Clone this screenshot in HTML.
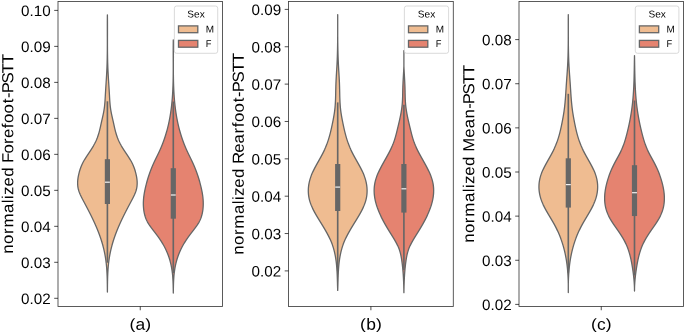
<!DOCTYPE html>
<html><head><meta charset="utf-8"><title>Violin plots</title>
<style>
html,body{margin:0;padding:0;background:#fff;}
body{width:685px;height:333px;overflow:hidden;font-family:"Liberation Sans",sans-serif;}
svg{display:block;will-change:transform;}
</style></head><body>
<svg width="685" height="333" viewBox="0 0 685 333" font-family="'Liberation Sans', sans-serif" fill="#000000">
<path d="M107.40,14.80 L107.39,15.80 L107.38,16.80 L107.37,17.80 L107.36,18.80 L107.35,19.80 L107.35,20.80 L107.34,21.80 L107.34,22.80 L107.34,23.80 L107.33,24.80 L107.33,25.80 L107.33,26.80 L107.33,27.80 L107.33,28.80 L107.33,29.80 L107.34,30.80 L107.34,31.80 L107.34,32.80 L107.34,33.80 L107.34,34.80 L107.34,35.80 L107.35,36.80 L107.35,37.80 L107.35,38.80 L107.35,39.80 L107.35,40.80 L107.35,41.80 L107.35,42.80 L107.35,43.80 L107.35,44.80 L107.35,45.80 L107.34,46.80 L107.34,47.80 L107.33,48.80 L107.33,49.80 L107.32,50.80 L107.31,51.80 L107.30,52.80 L107.29,53.80 L107.27,54.80 L107.26,55.80 L107.24,56.80 L107.23,57.80 L107.21,58.80 L107.19,59.80 L107.16,60.80 L107.14,61.80 L107.11,62.80 L107.08,63.80 L107.05,64.80 L107.01,65.80 L106.98,66.80 L106.94,67.80 L106.90,68.80 L106.85,69.80 L106.81,70.80 L106.76,71.80 L106.71,72.80 L106.65,73.80 L106.60,74.80 L106.54,75.80 L106.48,76.80 L106.42,77.80 L106.36,78.80 L106.30,79.80 L106.23,80.80 L106.17,81.80 L106.11,82.80 L106.04,83.80 L105.98,84.80 L105.91,85.80 L105.85,86.80 L105.78,87.80 L105.72,88.80 L105.66,89.80 L105.60,90.80 L105.54,91.80 L105.48,92.80 L105.42,93.80 L105.37,94.80 L105.31,95.80 L105.26,96.80 L105.20,97.80 L105.15,98.80 L105.08,99.80 L105.02,100.80 L104.95,101.80 L104.87,102.80 L104.78,103.80 L104.69,104.80 L104.59,105.80 L104.47,106.80 L104.34,107.80 L104.20,108.80 L104.05,109.80 L103.88,110.80 L103.70,111.80 L103.51,112.80 L103.31,113.80 L103.10,114.80 L102.88,115.80 L102.65,116.80 L102.43,117.80 L102.20,118.80 L101.97,119.80 L101.74,120.80 L101.51,121.80 L101.29,122.80 L101.07,123.80 L100.86,124.80 L100.64,125.80 L100.42,126.80 L100.19,127.80 L99.96,128.80 L99.72,129.80 L99.47,130.80 L99.21,131.80 L98.94,132.80 L98.65,133.80 L98.34,134.80 L98.02,135.80 L97.68,136.80 L97.32,137.80 L96.93,138.80 L96.52,139.80 L96.08,140.80 L95.61,141.80 L95.11,142.80 L94.59,143.80 L94.04,144.80 L93.47,145.80 L92.87,146.80 L92.26,147.80 L91.62,148.80 L90.98,149.80 L90.32,150.80 L89.66,151.80 L88.99,152.80 L88.32,153.80 L87.65,154.80 L86.99,155.80 L86.34,156.80 L85.71,157.80 L85.08,158.80 L84.48,159.80 L83.91,160.80 L83.36,161.80 L82.84,162.80 L82.35,163.80 L81.89,164.80 L81.45,165.80 L81.05,166.80 L80.66,167.80 L80.31,168.80 L79.97,169.80 L79.66,170.80 L79.37,171.80 L79.10,172.80 L78.85,173.80 L78.62,174.80 L78.40,175.80 L78.21,176.80 L78.05,177.80 L77.91,178.80 L77.79,179.80 L77.71,180.80 L77.65,181.80 L77.63,182.80 L77.63,183.80 L77.68,184.80 L77.76,185.80 L77.88,186.80 L78.04,187.80 L78.24,188.80 L78.49,189.80 L78.78,190.80 L79.11,191.80 L79.48,192.80 L79.89,193.80 L80.32,194.80 L80.78,195.80 L81.26,196.80 L81.76,197.80 L82.27,198.80 L82.80,199.80 L83.33,200.80 L83.87,201.80 L84.40,202.80 L84.93,203.80 L85.46,204.80 L85.99,205.80 L86.52,206.80 L87.05,207.80 L87.57,208.80 L88.09,209.80 L88.61,210.80 L89.12,211.80 L89.63,212.80 L90.14,213.80 L90.64,214.80 L91.14,215.80 L91.63,216.80 L92.12,217.80 L92.60,218.80 L93.07,219.80 L93.55,220.80 L94.01,221.80 L94.47,222.80 L94.92,223.80 L95.37,224.80 L95.80,225.80 L96.24,226.80 L96.66,227.80 L97.08,228.80 L97.49,229.80 L97.89,230.80 L98.28,231.80 L98.67,232.80 L99.05,233.80 L99.42,234.80 L99.78,235.80 L100.13,236.80 L100.48,237.80 L100.82,238.80 L101.15,239.80 L101.47,240.80 L101.78,241.80 L102.08,242.80 L102.37,243.80 L102.66,244.80 L102.94,245.80 L103.20,246.80 L103.46,247.80 L103.71,248.80 L103.95,249.80 L104.17,250.80 L104.39,251.80 L104.60,252.80 L104.80,253.80 L104.99,254.80 L105.17,255.80 L105.34,256.80 L105.50,257.80 L105.65,258.80 L105.79,259.80 L105.93,260.80 L106.05,261.80 L106.17,262.80 L106.28,263.80 L106.38,264.80 L106.48,265.80 L106.57,266.80 L106.65,267.80 L106.73,268.80 L106.80,269.80 L106.86,270.80 L106.92,271.80 L106.97,272.80 L107.02,273.80 L107.07,274.80 L107.11,275.80 L107.15,276.80 L107.18,277.80 L107.21,278.80 L107.23,279.80 L107.26,280.80 L107.28,281.80 L107.29,282.80 L107.31,283.80 L107.33,284.80 L107.34,285.80 L107.35,286.80 L107.36,287.80 L107.37,288.80 L107.38,289.80 L107.39,290.80 L107.40,291.80 L107.40,292.00 L107.40,292.00 L107.40,291.80 L107.41,290.80 L107.42,289.80 L107.43,288.80 L107.44,287.80 L107.45,286.80 L107.46,285.80 L107.47,284.80 L107.49,283.80 L107.51,282.80 L107.52,281.80 L107.54,280.80 L107.57,279.80 L107.59,278.80 L107.62,277.80 L107.65,276.80 L107.69,275.80 L107.73,274.80 L107.78,273.80 L107.83,272.80 L107.88,271.80 L107.94,270.80 L108.00,269.80 L108.07,268.80 L108.15,267.80 L108.23,266.80 L108.32,265.80 L108.42,264.80 L108.52,263.80 L108.63,262.80 L108.75,261.80 L108.87,260.80 L109.01,259.80 L109.15,258.80 L109.30,257.80 L109.46,256.80 L109.63,255.80 L109.81,254.80 L110.00,253.80 L110.20,252.80 L110.41,251.80 L110.63,250.80 L110.85,249.80 L111.09,248.80 L111.34,247.80 L111.60,246.80 L111.86,245.80 L112.14,244.80 L112.43,243.80 L112.72,242.80 L113.02,241.80 L113.33,240.80 L113.65,239.80 L113.98,238.80 L114.32,237.80 L114.67,236.80 L115.02,235.80 L115.38,234.80 L115.75,233.80 L116.13,232.80 L116.52,231.80 L116.91,230.80 L117.31,229.80 L117.72,228.80 L118.14,227.80 L118.56,226.80 L119.00,225.80 L119.43,224.80 L119.88,223.80 L120.33,222.80 L120.79,221.80 L121.25,220.80 L121.73,219.80 L122.20,218.80 L122.68,217.80 L123.17,216.80 L123.66,215.80 L124.16,214.80 L124.66,213.80 L125.17,212.80 L125.68,211.80 L126.19,210.80 L126.71,209.80 L127.23,208.80 L127.75,207.80 L128.28,206.80 L128.81,205.80 L129.34,204.80 L129.87,203.80 L130.40,202.80 L130.93,201.80 L131.47,200.80 L132.00,199.80 L132.53,198.80 L133.04,197.80 L133.54,196.80 L134.02,195.80 L134.48,194.80 L134.91,193.80 L135.32,192.80 L135.69,191.80 L136.02,190.80 L136.31,189.80 L136.56,188.80 L136.76,187.80 L136.92,186.80 L137.04,185.80 L137.12,184.80 L137.17,183.80 L137.17,182.80 L137.15,181.80 L137.09,180.80 L137.01,179.80 L136.89,178.80 L136.75,177.80 L136.59,176.80 L136.40,175.80 L136.18,174.80 L135.95,173.80 L135.70,172.80 L135.43,171.80 L135.14,170.80 L134.83,169.80 L134.49,168.80 L134.14,167.80 L133.75,166.80 L133.35,165.80 L132.91,164.80 L132.45,163.80 L131.96,162.80 L131.44,161.80 L130.89,160.80 L130.32,159.80 L129.72,158.80 L129.09,157.80 L128.46,156.80 L127.81,155.80 L127.15,154.80 L126.48,153.80 L125.81,152.80 L125.14,151.80 L124.48,150.80 L123.82,149.80 L123.18,148.80 L122.54,147.80 L121.93,146.80 L121.33,145.80 L120.76,144.80 L120.21,143.80 L119.69,142.80 L119.19,141.80 L118.72,140.80 L118.28,139.80 L117.87,138.80 L117.48,137.80 L117.12,136.80 L116.78,135.80 L116.46,134.80 L116.15,133.80 L115.86,132.80 L115.59,131.80 L115.33,130.80 L115.08,129.80 L114.84,128.80 L114.61,127.80 L114.38,126.80 L114.16,125.80 L113.94,124.80 L113.73,123.80 L113.51,122.80 L113.29,121.80 L113.06,120.80 L112.83,119.80 L112.60,118.80 L112.37,117.80 L112.15,116.80 L111.92,115.80 L111.70,114.80 L111.49,113.80 L111.29,112.80 L111.10,111.80 L110.92,110.80 L110.75,109.80 L110.60,108.80 L110.46,107.80 L110.33,106.80 L110.21,105.80 L110.11,104.80 L110.02,103.80 L109.93,102.80 L109.85,101.80 L109.78,100.80 L109.72,99.80 L109.65,98.80 L109.60,97.80 L109.54,96.80 L109.49,95.80 L109.43,94.80 L109.38,93.80 L109.32,92.80 L109.26,91.80 L109.20,90.80 L109.14,89.80 L109.08,88.80 L109.02,87.80 L108.95,86.80 L108.89,85.80 L108.82,84.80 L108.76,83.80 L108.69,82.80 L108.63,81.80 L108.57,80.80 L108.50,79.80 L108.44,78.80 L108.38,77.80 L108.32,76.80 L108.26,75.80 L108.20,74.80 L108.15,73.80 L108.09,72.80 L108.04,71.80 L107.99,70.80 L107.95,69.80 L107.90,68.80 L107.86,67.80 L107.82,66.80 L107.79,65.80 L107.75,64.80 L107.72,63.80 L107.69,62.80 L107.66,61.80 L107.64,60.80 L107.61,59.80 L107.59,58.80 L107.57,57.80 L107.56,56.80 L107.54,55.80 L107.53,54.80 L107.51,53.80 L107.50,52.80 L107.49,51.80 L107.48,50.80 L107.47,49.80 L107.47,48.80 L107.46,47.80 L107.46,46.80 L107.45,45.80 L107.45,44.80 L107.45,43.80 L107.45,42.80 L107.45,41.80 L107.45,40.80 L107.45,39.80 L107.45,38.80 L107.45,37.80 L107.45,36.80 L107.46,35.80 L107.46,34.80 L107.46,33.80 L107.46,32.80 L107.46,31.80 L107.46,30.80 L107.47,29.80 L107.47,28.80 L107.47,27.80 L107.47,26.80 L107.47,25.80 L107.47,24.80 L107.46,23.80 L107.46,22.80 L107.46,21.80 L107.45,20.80 L107.45,19.80 L107.44,18.80 L107.43,17.80 L107.42,16.80 L107.41,15.80 L107.40,14.80Z" fill="#efbc91" stroke="#666666" stroke-width="1.3" stroke-linejoin="round"/>
<line x1="107.4" x2="107.4" y1="101.3" y2="262.7" stroke="#666666" stroke-width="1.64"/>
<line x1="107.4" x2="107.4" y1="159.2" y2="204.0" stroke="#666666" stroke-width="5.2"/>
<line x1="104.95" x2="109.85000000000001" y1="182.2" y2="182.2" stroke="#f2f2f2" stroke-width="1.2"/>
<path d="M173.30,39.80 L173.28,40.80 L173.27,41.80 L173.26,42.80 L173.25,43.80 L173.24,44.80 L173.23,45.80 L173.22,46.80 L173.22,47.80 L173.21,48.80 L173.21,49.80 L173.21,50.80 L173.21,51.80 L173.21,52.80 L173.21,53.80 L173.21,54.80 L173.22,55.80 L173.22,56.80 L173.22,57.80 L173.22,58.80 L173.23,59.80 L173.23,60.80 L173.23,61.80 L173.24,62.80 L173.24,63.80 L173.24,64.80 L173.24,65.80 L173.24,66.80 L173.24,67.80 L173.24,68.80 L173.24,69.80 L173.24,70.80 L173.23,71.80 L173.23,72.80 L173.22,73.80 L173.21,74.80 L173.20,75.80 L173.19,76.80 L173.17,77.80 L173.16,78.80 L173.14,79.80 L173.12,80.80 L173.10,81.80 L173.07,82.80 L173.04,83.80 L173.01,84.80 L172.98,85.80 L172.94,86.80 L172.90,87.80 L172.86,88.80 L172.82,89.80 L172.77,90.80 L172.72,91.80 L172.66,92.80 L172.60,93.80 L172.54,94.80 L172.47,95.80 L172.40,96.80 L172.33,97.80 L172.25,98.80 L172.16,99.80 L172.08,100.80 L171.98,101.80 L171.89,102.80 L171.78,103.80 L171.68,104.80 L171.57,105.80 L171.45,106.80 L171.33,107.80 L171.20,108.80 L171.07,109.80 L170.93,110.80 L170.79,111.80 L170.64,112.80 L170.48,113.80 L170.32,114.80 L170.16,115.80 L169.98,116.80 L169.81,117.80 L169.62,118.80 L169.43,119.80 L169.23,120.80 L169.02,121.80 L168.81,122.80 L168.59,123.80 L168.37,124.80 L168.13,125.80 L167.89,126.80 L167.65,127.80 L167.39,128.80 L167.13,129.80 L166.86,130.80 L166.58,131.80 L166.29,132.80 L166.00,133.80 L165.70,134.80 L165.39,135.80 L165.07,136.80 L164.74,137.80 L164.40,138.80 L164.06,139.80 L163.71,140.80 L163.34,141.80 L162.97,142.80 L162.59,143.80 L162.20,144.80 L161.79,145.80 L161.38,146.80 L160.96,147.80 L160.53,148.80 L160.08,149.80 L159.63,150.80 L159.17,151.80 L158.69,152.80 L158.21,153.80 L157.73,154.80 L157.24,155.80 L156.75,156.80 L156.25,157.80 L155.77,158.80 L155.28,159.80 L154.80,160.80 L154.33,161.80 L153.86,162.80 L153.41,163.80 L152.97,164.80 L152.53,165.80 L152.11,166.80 L151.70,167.80 L151.30,168.80 L150.90,169.80 L150.52,170.80 L150.15,171.80 L149.78,172.80 L149.43,173.80 L149.09,174.80 L148.75,175.80 L148.42,176.80 L148.10,177.80 L147.79,178.80 L147.49,179.80 L147.20,180.80 L146.92,181.80 L146.64,182.80 L146.37,183.80 L146.11,184.80 L145.86,185.80 L145.62,186.80 L145.38,187.80 L145.16,188.80 L144.94,189.80 L144.74,190.80 L144.54,191.80 L144.36,192.80 L144.20,193.80 L144.04,194.80 L143.90,195.80 L143.77,196.80 L143.66,197.80 L143.57,198.80 L143.49,199.80 L143.43,200.80 L143.38,201.80 L143.36,202.80 L143.35,203.80 L143.36,204.80 L143.40,205.80 L143.45,206.80 L143.52,207.80 L143.62,208.80 L143.74,209.80 L143.88,210.80 L144.04,211.80 L144.23,212.80 L144.44,213.80 L144.68,214.80 L144.95,215.80 L145.25,216.80 L145.58,217.80 L145.96,218.80 L146.38,219.80 L146.86,220.80 L147.39,221.80 L147.97,222.80 L148.60,223.80 L149.25,224.80 L149.94,225.80 L150.65,226.80 L151.39,227.80 L152.13,228.80 L152.89,229.80 L153.66,230.80 L154.43,231.80 L155.21,232.80 L155.97,233.80 L156.73,234.80 L157.48,235.80 L158.21,236.80 L158.92,237.80 L159.61,238.80 L160.28,239.80 L160.93,240.80 L161.56,241.80 L162.17,242.80 L162.76,243.80 L163.33,244.80 L163.88,245.80 L164.42,246.80 L164.93,247.80 L165.43,248.80 L165.91,249.80 L166.37,250.80 L166.81,251.80 L167.24,252.80 L167.65,253.80 L168.04,254.80 L168.41,255.80 L168.77,256.80 L169.11,257.80 L169.43,258.80 L169.74,259.80 L170.03,260.80 L170.30,261.80 L170.56,262.80 L170.80,263.80 L171.03,264.80 L171.24,265.80 L171.44,266.80 L171.62,267.80 L171.79,268.80 L171.95,269.80 L172.09,270.80 L172.22,271.80 L172.35,272.80 L172.46,273.80 L172.56,274.80 L172.65,275.80 L172.73,276.80 L172.81,277.80 L172.87,278.80 L172.93,279.80 L172.98,280.80 L173.03,281.80 L173.07,282.80 L173.11,283.80 L173.14,284.80 L173.17,285.80 L173.19,286.80 L173.21,287.80 L173.23,288.80 L173.25,289.80 L173.26,290.80 L173.28,291.80 L173.30,292.80 L173.30,293.00 L173.30,293.00 L173.30,292.80 L173.32,291.80 L173.34,290.80 L173.35,289.80 L173.37,288.80 L173.39,287.80 L173.41,286.80 L173.43,285.80 L173.46,284.80 L173.49,283.80 L173.53,282.80 L173.57,281.80 L173.62,280.80 L173.67,279.80 L173.73,278.80 L173.79,277.80 L173.87,276.80 L173.95,275.80 L174.04,274.80 L174.14,273.80 L174.25,272.80 L174.38,271.80 L174.51,270.80 L174.65,269.80 L174.81,268.80 L174.98,267.80 L175.16,266.80 L175.36,265.80 L175.57,264.80 L175.80,263.80 L176.04,262.80 L176.30,261.80 L176.57,260.80 L176.86,259.80 L177.17,258.80 L177.49,257.80 L177.83,256.80 L178.19,255.80 L178.56,254.80 L178.95,253.80 L179.36,252.80 L179.79,251.80 L180.23,250.80 L180.69,249.80 L181.17,248.80 L181.67,247.80 L182.18,246.80 L182.72,245.80 L183.27,244.80 L183.84,243.80 L184.43,242.80 L185.04,241.80 L185.67,240.80 L186.32,239.80 L186.99,238.80 L187.68,237.80 L188.39,236.80 L189.12,235.80 L189.87,234.80 L190.63,233.80 L191.39,232.80 L192.17,231.80 L192.94,230.80 L193.71,229.80 L194.47,228.80 L195.21,227.80 L195.95,226.80 L196.66,225.80 L197.35,224.80 L198.00,223.80 L198.63,222.80 L199.21,221.80 L199.74,220.80 L200.22,219.80 L200.64,218.80 L201.02,217.80 L201.35,216.80 L201.65,215.80 L201.92,214.80 L202.16,213.80 L202.37,212.80 L202.56,211.80 L202.72,210.80 L202.86,209.80 L202.98,208.80 L203.08,207.80 L203.15,206.80 L203.20,205.80 L203.24,204.80 L203.25,203.80 L203.24,202.80 L203.22,201.80 L203.17,200.80 L203.11,199.80 L203.03,198.80 L202.94,197.80 L202.83,196.80 L202.70,195.80 L202.56,194.80 L202.40,193.80 L202.24,192.80 L202.06,191.80 L201.86,190.80 L201.66,189.80 L201.44,188.80 L201.22,187.80 L200.98,186.80 L200.74,185.80 L200.49,184.80 L200.23,183.80 L199.96,182.80 L199.68,181.80 L199.40,180.80 L199.11,179.80 L198.81,178.80 L198.50,177.80 L198.18,176.80 L197.85,175.80 L197.51,174.80 L197.17,173.80 L196.82,172.80 L196.45,171.80 L196.08,170.80 L195.70,169.80 L195.30,168.80 L194.90,167.80 L194.49,166.80 L194.07,165.80 L193.63,164.80 L193.19,163.80 L192.74,162.80 L192.27,161.80 L191.80,160.80 L191.32,159.80 L190.83,158.80 L190.35,157.80 L189.85,156.80 L189.36,155.80 L188.87,154.80 L188.39,153.80 L187.91,152.80 L187.43,151.80 L186.97,150.80 L186.52,149.80 L186.07,148.80 L185.64,147.80 L185.22,146.80 L184.81,145.80 L184.40,144.80 L184.01,143.80 L183.63,142.80 L183.26,141.80 L182.89,140.80 L182.54,139.80 L182.20,138.80 L181.86,137.80 L181.53,136.80 L181.21,135.80 L180.90,134.80 L180.60,133.80 L180.31,132.80 L180.02,131.80 L179.74,130.80 L179.47,129.80 L179.21,128.80 L178.95,127.80 L178.71,126.80 L178.47,125.80 L178.23,124.80 L178.01,123.80 L177.79,122.80 L177.58,121.80 L177.37,120.80 L177.17,119.80 L176.98,118.80 L176.79,117.80 L176.62,116.80 L176.44,115.80 L176.28,114.80 L176.12,113.80 L175.96,112.80 L175.81,111.80 L175.67,110.80 L175.53,109.80 L175.40,108.80 L175.27,107.80 L175.15,106.80 L175.03,105.80 L174.92,104.80 L174.82,103.80 L174.71,102.80 L174.62,101.80 L174.52,100.80 L174.44,99.80 L174.35,98.80 L174.27,97.80 L174.20,96.80 L174.13,95.80 L174.06,94.80 L174.00,93.80 L173.94,92.80 L173.88,91.80 L173.83,90.80 L173.78,89.80 L173.74,88.80 L173.70,87.80 L173.66,86.80 L173.62,85.80 L173.59,84.80 L173.56,83.80 L173.53,82.80 L173.50,81.80 L173.48,80.80 L173.46,79.80 L173.44,78.80 L173.43,77.80 L173.41,76.80 L173.40,75.80 L173.39,74.80 L173.38,73.80 L173.37,72.80 L173.37,71.80 L173.36,70.80 L173.36,69.80 L173.36,68.80 L173.36,67.80 L173.36,66.80 L173.36,65.80 L173.36,64.80 L173.36,63.80 L173.36,62.80 L173.37,61.80 L173.37,60.80 L173.37,59.80 L173.38,58.80 L173.38,57.80 L173.38,56.80 L173.38,55.80 L173.39,54.80 L173.39,53.80 L173.39,52.80 L173.39,51.80 L173.39,50.80 L173.39,49.80 L173.39,48.80 L173.38,47.80 L173.38,46.80 L173.37,45.80 L173.36,44.80 L173.35,43.80 L173.34,42.80 L173.33,41.80 L173.32,40.80 L173.30,39.80Z" fill="#e58370" stroke="#666666" stroke-width="1.3" stroke-linejoin="round"/>
<line x1="173.3" x2="173.3" y1="101.5" y2="273" stroke="#666666" stroke-width="1.64"/>
<line x1="173.3" x2="173.3" y1="168.2" y2="218.7" stroke="#666666" stroke-width="5.2"/>
<line x1="170.85000000000002" x2="175.75" y1="195.0" y2="195.0" stroke="#f2f2f2" stroke-width="1.2"/>
<path d="M337.70,14.60 L337.70,15.60 L337.70,16.60 L337.70,17.60 L337.70,18.60 L337.70,19.60 L337.70,20.60 L337.70,21.60 L337.70,22.60 L337.70,23.60 L337.70,24.60 L337.70,25.60 L337.70,26.60 L337.70,27.60 L337.70,28.60 L337.70,29.60 L337.70,30.60 L337.70,31.60 L337.70,32.60 L337.70,33.60 L337.70,34.60 L337.70,35.60 L337.69,36.60 L337.68,37.60 L337.68,38.60 L337.67,39.60 L337.66,40.60 L337.65,41.60 L337.64,42.60 L337.62,43.60 L337.61,44.60 L337.60,45.60 L337.58,46.60 L337.56,47.60 L337.54,48.60 L337.52,49.60 L337.50,50.60 L337.47,51.60 L337.45,52.60 L337.42,53.60 L337.39,54.60 L337.36,55.60 L337.33,56.60 L337.29,57.60 L337.25,58.60 L337.22,59.60 L337.17,60.60 L337.13,61.60 L337.08,62.60 L337.04,63.60 L336.99,64.60 L336.93,65.60 L336.88,66.60 L336.82,67.60 L336.76,68.60 L336.71,69.60 L336.65,70.60 L336.58,71.60 L336.52,72.60 L336.46,73.60 L336.40,74.60 L336.34,75.60 L336.29,76.60 L336.23,77.60 L336.18,78.60 L336.12,79.60 L336.07,80.60 L336.03,81.60 L335.98,82.60 L335.94,83.60 L335.91,84.60 L335.87,85.60 L335.85,86.60 L335.82,87.60 L335.80,88.60 L335.77,89.60 L335.75,90.60 L335.73,91.60 L335.71,92.60 L335.69,93.60 L335.67,94.60 L335.64,95.60 L335.62,96.60 L335.59,97.60 L335.55,98.60 L335.52,99.60 L335.47,100.60 L335.43,101.60 L335.37,102.60 L335.32,103.60 L335.25,104.60 L335.18,105.60 L335.10,106.60 L335.01,107.60 L334.91,108.60 L334.80,109.60 L334.68,110.60 L334.55,111.60 L334.41,112.60 L334.26,113.60 L334.10,114.60 L333.94,115.60 L333.76,116.60 L333.58,117.60 L333.40,118.60 L333.21,119.60 L333.01,120.60 L332.81,121.60 L332.61,122.60 L332.41,123.60 L332.20,124.60 L331.99,125.60 L331.78,126.60 L331.56,127.60 L331.34,128.60 L331.11,129.60 L330.88,130.60 L330.64,131.60 L330.39,132.60 L330.14,133.60 L329.87,134.60 L329.60,135.60 L329.32,136.60 L329.03,137.60 L328.73,138.60 L328.42,139.60 L328.10,140.60 L327.77,141.60 L327.42,142.60 L327.06,143.60 L326.69,144.60 L326.30,145.60 L325.90,146.60 L325.49,147.60 L325.05,148.60 L324.61,149.60 L324.14,150.60 L323.66,151.60 L323.16,152.60 L322.65,153.60 L322.13,154.60 L321.59,155.60 L321.05,156.60 L320.50,157.60 L319.94,158.60 L319.38,159.60 L318.82,160.60 L318.25,161.60 L317.69,162.60 L317.13,163.60 L316.57,164.60 L316.03,165.60 L315.48,166.60 L314.95,167.60 L314.43,168.60 L313.93,169.60 L313.43,170.60 L312.96,171.60 L312.50,172.60 L312.06,173.60 L311.65,174.60 L311.25,175.60 L310.89,176.60 L310.54,177.60 L310.22,178.60 L309.92,179.60 L309.65,180.60 L309.40,181.60 L309.18,182.60 L308.98,183.60 L308.80,184.60 L308.66,185.60 L308.54,186.60 L308.44,187.60 L308.37,188.60 L308.33,189.60 L308.31,190.60 L308.32,191.60 L308.36,192.60 L308.42,193.60 L308.51,194.60 L308.63,195.60 L308.78,196.60 L308.95,197.60 L309.15,198.60 L309.38,199.60 L309.64,200.60 L309.93,201.60 L310.25,202.60 L310.60,203.60 L310.97,204.60 L311.37,205.60 L311.80,206.60 L312.25,207.60 L312.72,208.60 L313.21,209.60 L313.72,210.60 L314.25,211.60 L314.79,212.60 L315.35,213.60 L315.92,214.60 L316.50,215.60 L317.10,216.60 L317.70,217.60 L318.30,218.60 L318.92,219.60 L319.53,220.60 L320.15,221.60 L320.77,222.60 L321.39,223.60 L322.00,224.60 L322.61,225.60 L323.22,226.60 L323.82,227.60 L324.42,228.60 L325.00,229.60 L325.58,230.60 L326.15,231.60 L326.71,232.60 L327.26,233.60 L327.79,234.60 L328.32,235.60 L328.83,236.60 L329.32,237.60 L329.80,238.60 L330.26,239.60 L330.71,240.60 L331.13,241.60 L331.54,242.60 L331.93,243.60 L332.30,244.60 L332.64,245.60 L332.97,246.60 L333.29,247.60 L333.58,248.60 L333.86,249.60 L334.13,250.60 L334.38,251.60 L334.61,252.60 L334.83,253.60 L335.04,254.60 L335.23,255.60 L335.42,256.60 L335.59,257.60 L335.75,258.60 L335.90,259.60 L336.04,260.60 L336.18,261.60 L336.30,262.60 L336.41,263.60 L336.51,264.60 L336.61,265.60 L336.70,266.60 L336.78,267.60 L336.86,268.60 L336.93,269.60 L336.99,270.60 L337.05,271.60 L337.10,272.60 L337.15,273.60 L337.20,274.60 L337.24,275.60 L337.27,276.60 L337.31,277.60 L337.34,278.60 L337.37,279.60 L337.40,280.60 L337.43,281.60 L337.46,282.60 L337.49,283.60 L337.51,284.60 L337.54,285.60 L337.57,286.60 L337.60,287.60 L337.63,288.60 L337.67,289.60 L337.70,290.40 L337.70,290.40 L337.73,289.60 L337.77,288.60 L337.80,287.60 L337.83,286.60 L337.86,285.60 L337.89,284.60 L337.91,283.60 L337.94,282.60 L337.97,281.60 L338.00,280.60 L338.03,279.60 L338.06,278.60 L338.09,277.60 L338.13,276.60 L338.16,275.60 L338.20,274.60 L338.25,273.60 L338.30,272.60 L338.35,271.60 L338.41,270.60 L338.47,269.60 L338.54,268.60 L338.62,267.60 L338.70,266.60 L338.79,265.60 L338.89,264.60 L338.99,263.60 L339.10,262.60 L339.22,261.60 L339.36,260.60 L339.50,259.60 L339.65,258.60 L339.81,257.60 L339.98,256.60 L340.17,255.60 L340.36,254.60 L340.57,253.60 L340.79,252.60 L341.02,251.60 L341.27,250.60 L341.54,249.60 L341.82,248.60 L342.11,247.60 L342.43,246.60 L342.76,245.60 L343.10,244.60 L343.47,243.60 L343.86,242.60 L344.27,241.60 L344.69,240.60 L345.14,239.60 L345.60,238.60 L346.08,237.60 L346.57,236.60 L347.08,235.60 L347.61,234.60 L348.14,233.60 L348.69,232.60 L349.25,231.60 L349.82,230.60 L350.40,229.60 L350.98,228.60 L351.58,227.60 L352.18,226.60 L352.79,225.60 L353.40,224.60 L354.01,223.60 L354.63,222.60 L355.25,221.60 L355.87,220.60 L356.48,219.60 L357.10,218.60 L357.70,217.60 L358.30,216.60 L358.90,215.60 L359.48,214.60 L360.05,213.60 L360.61,212.60 L361.15,211.60 L361.68,210.60 L362.19,209.60 L362.68,208.60 L363.15,207.60 L363.60,206.60 L364.03,205.60 L364.43,204.60 L364.80,203.60 L365.15,202.60 L365.47,201.60 L365.76,200.60 L366.02,199.60 L366.25,198.60 L366.45,197.60 L366.62,196.60 L366.77,195.60 L366.89,194.60 L366.98,193.60 L367.04,192.60 L367.08,191.60 L367.09,190.60 L367.07,189.60 L367.03,188.60 L366.96,187.60 L366.86,186.60 L366.74,185.60 L366.60,184.60 L366.42,183.60 L366.22,182.60 L366.00,181.60 L365.75,180.60 L365.48,179.60 L365.18,178.60 L364.86,177.60 L364.51,176.60 L364.15,175.60 L363.75,174.60 L363.34,173.60 L362.90,172.60 L362.44,171.60 L361.97,170.60 L361.47,169.60 L360.97,168.60 L360.45,167.60 L359.92,166.60 L359.37,165.60 L358.83,164.60 L358.27,163.60 L357.71,162.60 L357.15,161.60 L356.58,160.60 L356.02,159.60 L355.46,158.60 L354.90,157.60 L354.35,156.60 L353.81,155.60 L353.27,154.60 L352.75,153.60 L352.24,152.60 L351.74,151.60 L351.26,150.60 L350.79,149.60 L350.35,148.60 L349.91,147.60 L349.50,146.60 L349.10,145.60 L348.71,144.60 L348.34,143.60 L347.98,142.60 L347.63,141.60 L347.30,140.60 L346.98,139.60 L346.67,138.60 L346.37,137.60 L346.08,136.60 L345.80,135.60 L345.53,134.60 L345.26,133.60 L345.01,132.60 L344.76,131.60 L344.52,130.60 L344.29,129.60 L344.06,128.60 L343.84,127.60 L343.62,126.60 L343.41,125.60 L343.20,124.60 L342.99,123.60 L342.79,122.60 L342.59,121.60 L342.39,120.60 L342.19,119.60 L342.00,118.60 L341.82,117.60 L341.64,116.60 L341.46,115.60 L341.30,114.60 L341.14,113.60 L340.99,112.60 L340.85,111.60 L340.72,110.60 L340.60,109.60 L340.49,108.60 L340.39,107.60 L340.30,106.60 L340.22,105.60 L340.15,104.60 L340.08,103.60 L340.03,102.60 L339.97,101.60 L339.93,100.60 L339.88,99.60 L339.85,98.60 L339.81,97.60 L339.78,96.60 L339.76,95.60 L339.73,94.60 L339.71,93.60 L339.69,92.60 L339.67,91.60 L339.65,90.60 L339.63,89.60 L339.60,88.60 L339.58,87.60 L339.55,86.60 L339.53,85.60 L339.49,84.60 L339.46,83.60 L339.42,82.60 L339.37,81.60 L339.33,80.60 L339.28,79.60 L339.22,78.60 L339.17,77.60 L339.11,76.60 L339.06,75.60 L339.00,74.60 L338.94,73.60 L338.88,72.60 L338.82,71.60 L338.75,70.60 L338.69,69.60 L338.64,68.60 L338.58,67.60 L338.52,66.60 L338.47,65.60 L338.41,64.60 L338.36,63.60 L338.32,62.60 L338.27,61.60 L338.23,60.60 L338.18,59.60 L338.15,58.60 L338.11,57.60 L338.07,56.60 L338.04,55.60 L338.01,54.60 L337.98,53.60 L337.95,52.60 L337.93,51.60 L337.90,50.60 L337.88,49.60 L337.86,48.60 L337.84,47.60 L337.82,46.60 L337.80,45.60 L337.79,44.60 L337.78,43.60 L337.76,42.60 L337.75,41.60 L337.74,40.60 L337.73,39.60 L337.72,38.60 L337.72,37.60 L337.71,36.60 L337.70,35.60 L337.70,34.60 L337.70,33.60 L337.70,32.60 L337.70,31.60 L337.70,30.60 L337.70,29.60 L337.70,28.60 L337.70,27.60 L337.70,26.60 L337.70,25.60 L337.70,24.60 L337.70,23.60 L337.70,22.60 L337.70,21.60 L337.70,20.60 L337.70,19.60 L337.70,18.60 L337.70,17.60 L337.70,16.60 L337.70,15.60 L337.70,14.60Z" fill="#efbc91" stroke="#666666" stroke-width="1.3" stroke-linejoin="round"/>
<line x1="337.7" x2="337.7" y1="102.4" y2="271" stroke="#666666" stroke-width="1.64"/>
<line x1="337.7" x2="337.7" y1="164.0" y2="211.0" stroke="#666666" stroke-width="5.2"/>
<line x1="335.25" x2="340.15" y1="187.1" y2="187.1" stroke="#f2f2f2" stroke-width="1.2"/>
<path d="M403.90,50.60 L403.90,51.60 L403.90,52.60 L403.90,53.60 L403.90,54.60 L403.90,55.60 L403.90,56.60 L403.90,57.60 L403.90,58.60 L403.90,59.60 L403.90,60.60 L403.90,61.60 L403.90,62.60 L403.90,63.60 L403.90,64.60 L403.90,65.60 L403.89,66.60 L403.84,67.60 L403.80,68.60 L403.75,69.60 L403.69,70.60 L403.64,71.60 L403.58,72.60 L403.53,73.60 L403.47,74.60 L403.41,75.60 L403.36,76.60 L403.30,77.60 L403.24,78.60 L403.19,79.60 L403.13,80.60 L403.08,81.60 L403.03,82.60 L402.99,83.60 L402.94,84.60 L402.90,85.60 L402.86,86.60 L402.83,87.60 L402.80,88.60 L402.78,89.60 L402.75,90.60 L402.73,91.60 L402.72,92.60 L402.70,93.60 L402.68,94.60 L402.65,95.60 L402.63,96.60 L402.60,97.60 L402.56,98.60 L402.52,99.60 L402.47,100.60 L402.41,101.60 L402.35,102.60 L402.27,103.60 L402.18,104.60 L402.08,105.60 L401.97,106.60 L401.85,107.60 L401.71,108.60 L401.57,109.60 L401.41,110.60 L401.25,111.60 L401.08,112.60 L400.90,113.60 L400.71,114.60 L400.51,115.60 L400.31,116.60 L400.10,117.60 L399.89,118.60 L399.67,119.60 L399.44,120.60 L399.21,121.60 L398.98,122.60 L398.75,123.60 L398.51,124.60 L398.27,125.60 L398.03,126.60 L397.79,127.60 L397.54,128.60 L397.30,129.60 L397.06,130.60 L396.81,131.60 L396.56,132.60 L396.31,133.60 L396.05,134.60 L395.78,135.60 L395.50,136.60 L395.21,137.60 L394.92,138.60 L394.60,139.60 L394.28,140.60 L393.94,141.60 L393.58,142.60 L393.21,143.60 L392.81,144.60 L392.40,145.60 L391.96,146.60 L391.51,147.60 L391.04,148.60 L390.56,149.60 L390.06,150.60 L389.55,151.60 L389.03,152.60 L388.49,153.60 L387.95,154.60 L387.41,155.60 L386.85,156.60 L386.30,157.60 L385.73,158.60 L385.17,159.60 L384.61,160.60 L384.05,161.60 L383.49,162.60 L382.94,163.60 L382.39,164.60 L381.84,165.60 L381.31,166.60 L380.78,167.60 L380.27,168.60 L379.76,169.60 L379.28,170.60 L378.80,171.60 L378.34,172.60 L377.90,173.60 L377.48,174.60 L377.08,175.60 L376.70,176.60 L376.34,177.60 L376.01,178.60 L375.71,179.60 L375.43,180.60 L375.18,181.60 L374.95,182.60 L374.76,183.60 L374.59,184.60 L374.45,185.60 L374.34,186.60 L374.25,187.60 L374.19,188.60 L374.16,189.60 L374.14,190.60 L374.16,191.60 L374.19,192.60 L374.25,193.60 L374.34,194.60 L374.44,195.60 L374.57,196.60 L374.72,197.60 L374.89,198.60 L375.08,199.60 L375.29,200.60 L375.52,201.60 L375.78,202.60 L376.05,203.60 L376.33,204.60 L376.64,205.60 L376.96,206.60 L377.31,207.60 L377.66,208.60 L378.04,209.60 L378.43,210.60 L378.83,211.60 L379.25,212.60 L379.69,213.60 L380.14,214.60 L380.60,215.60 L381.08,216.60 L381.56,217.60 L382.07,218.60 L382.58,219.60 L383.10,220.60 L383.64,221.60 L384.18,222.60 L384.74,223.60 L385.30,224.60 L385.88,225.60 L386.46,226.60 L387.05,227.60 L387.65,228.60 L388.25,229.60 L388.87,230.60 L389.49,231.60 L390.11,232.60 L390.74,233.60 L391.36,234.60 L391.99,235.60 L392.61,236.60 L393.22,237.60 L393.83,238.60 L394.42,239.60 L395.00,240.60 L395.57,241.60 L396.12,242.60 L396.65,243.60 L397.15,244.60 L397.64,245.60 L398.10,246.60 L398.53,247.60 L398.93,248.60 L399.30,249.60 L399.63,250.60 L399.94,251.60 L400.23,252.60 L400.48,253.60 L400.72,254.60 L400.94,255.60 L401.14,256.60 L401.32,257.60 L401.49,258.60 L401.65,259.60 L401.80,260.60 L401.94,261.60 L402.07,262.60 L402.20,263.60 L402.33,264.60 L402.44,265.60 L402.55,266.60 L402.66,267.60 L402.76,268.60 L402.85,269.60 L402.94,270.60 L403.02,271.60 L403.10,272.60 L403.18,273.60 L403.25,274.60 L403.31,275.60 L403.37,276.60 L403.43,277.60 L403.48,278.60 L403.53,279.60 L403.57,280.60 L403.62,281.60 L403.65,282.60 L403.69,283.60 L403.72,284.60 L403.75,285.60 L403.78,286.60 L403.80,287.60 L403.83,288.60 L403.85,289.60 L403.87,290.60 L403.88,291.60 L403.90,292.60 L403.90,292.70 L403.90,292.70 L403.90,292.60 L403.92,291.60 L403.93,290.60 L403.95,289.60 L403.97,288.60 L404.00,287.60 L404.02,286.60 L404.05,285.60 L404.08,284.60 L404.11,283.60 L404.15,282.60 L404.18,281.60 L404.23,280.60 L404.27,279.60 L404.32,278.60 L404.37,277.60 L404.43,276.60 L404.49,275.60 L404.55,274.60 L404.62,273.60 L404.70,272.60 L404.78,271.60 L404.86,270.60 L404.95,269.60 L405.04,268.60 L405.14,267.60 L405.25,266.60 L405.36,265.60 L405.47,264.60 L405.60,263.60 L405.73,262.60 L405.86,261.60 L406.00,260.60 L406.15,259.60 L406.31,258.60 L406.48,257.60 L406.66,256.60 L406.86,255.60 L407.08,254.60 L407.32,253.60 L407.57,252.60 L407.86,251.60 L408.17,250.60 L408.50,249.60 L408.87,248.60 L409.27,247.60 L409.70,246.60 L410.16,245.60 L410.65,244.60 L411.15,243.60 L411.68,242.60 L412.23,241.60 L412.80,240.60 L413.38,239.60 L413.97,238.60 L414.58,237.60 L415.19,236.60 L415.81,235.60 L416.44,234.60 L417.06,233.60 L417.69,232.60 L418.31,231.60 L418.93,230.60 L419.55,229.60 L420.15,228.60 L420.75,227.60 L421.34,226.60 L421.92,225.60 L422.50,224.60 L423.06,223.60 L423.62,222.60 L424.16,221.60 L424.70,220.60 L425.22,219.60 L425.73,218.60 L426.24,217.60 L426.72,216.60 L427.20,215.60 L427.66,214.60 L428.11,213.60 L428.55,212.60 L428.97,211.60 L429.37,210.60 L429.76,209.60 L430.14,208.60 L430.49,207.60 L430.84,206.60 L431.16,205.60 L431.47,204.60 L431.75,203.60 L432.02,202.60 L432.28,201.60 L432.51,200.60 L432.72,199.60 L432.91,198.60 L433.08,197.60 L433.23,196.60 L433.36,195.60 L433.46,194.60 L433.55,193.60 L433.61,192.60 L433.64,191.60 L433.66,190.60 L433.64,189.60 L433.61,188.60 L433.55,187.60 L433.46,186.60 L433.35,185.60 L433.21,184.60 L433.04,183.60 L432.85,182.60 L432.62,181.60 L432.37,180.60 L432.09,179.60 L431.79,178.60 L431.46,177.60 L431.10,176.60 L430.72,175.60 L430.32,174.60 L429.90,173.60 L429.46,172.60 L429.00,171.60 L428.52,170.60 L428.04,169.60 L427.53,168.60 L427.02,167.60 L426.49,166.60 L425.96,165.60 L425.41,164.60 L424.86,163.60 L424.31,162.60 L423.75,161.60 L423.19,160.60 L422.63,159.60 L422.07,158.60 L421.50,157.60 L420.95,156.60 L420.39,155.60 L419.85,154.60 L419.31,153.60 L418.77,152.60 L418.25,151.60 L417.74,150.60 L417.24,149.60 L416.76,148.60 L416.29,147.60 L415.84,146.60 L415.40,145.60 L414.99,144.60 L414.59,143.60 L414.22,142.60 L413.86,141.60 L413.52,140.60 L413.20,139.60 L412.88,138.60 L412.59,137.60 L412.30,136.60 L412.02,135.60 L411.75,134.60 L411.49,133.60 L411.24,132.60 L410.99,131.60 L410.74,130.60 L410.50,129.60 L410.26,128.60 L410.01,127.60 L409.77,126.60 L409.53,125.60 L409.29,124.60 L409.05,123.60 L408.82,122.60 L408.59,121.60 L408.36,120.60 L408.13,119.60 L407.91,118.60 L407.70,117.60 L407.49,116.60 L407.29,115.60 L407.09,114.60 L406.90,113.60 L406.72,112.60 L406.55,111.60 L406.39,110.60 L406.23,109.60 L406.09,108.60 L405.95,107.60 L405.83,106.60 L405.72,105.60 L405.62,104.60 L405.53,103.60 L405.45,102.60 L405.39,101.60 L405.33,100.60 L405.28,99.60 L405.24,98.60 L405.20,97.60 L405.17,96.60 L405.15,95.60 L405.12,94.60 L405.10,93.60 L405.08,92.60 L405.07,91.60 L405.05,90.60 L405.02,89.60 L405.00,88.60 L404.97,87.60 L404.94,86.60 L404.90,85.60 L404.86,84.60 L404.81,83.60 L404.77,82.60 L404.72,81.60 L404.67,80.60 L404.61,79.60 L404.56,78.60 L404.50,77.60 L404.44,76.60 L404.39,75.60 L404.33,74.60 L404.27,73.60 L404.22,72.60 L404.16,71.60 L404.11,70.60 L404.05,69.60 L404.00,68.60 L403.96,67.60 L403.91,66.60 L403.90,65.60 L403.90,64.60 L403.90,63.60 L403.90,62.60 L403.90,61.60 L403.90,60.60 L403.90,59.60 L403.90,58.60 L403.90,57.60 L403.90,56.60 L403.90,55.60 L403.90,54.60 L403.90,53.60 L403.90,52.60 L403.90,51.60 L403.90,50.60Z" fill="#e58370" stroke="#666666" stroke-width="1.3" stroke-linejoin="round"/>
<line x1="403.9" x2="403.9" y1="104.8" y2="270" stroke="#666666" stroke-width="1.64"/>
<line x1="403.9" x2="403.9" y1="164.0" y2="212.6" stroke="#666666" stroke-width="5.2"/>
<line x1="401.45" x2="406.34999999999997" y1="188.8" y2="188.8" stroke="#f2f2f2" stroke-width="1.2"/>
<path d="M568.30,14.60 L568.29,15.60 L568.29,16.60 L568.28,17.60 L568.28,18.60 L568.27,19.60 L568.27,20.60 L568.27,21.60 L568.27,22.60 L568.27,23.60 L568.27,24.60 L568.27,25.60 L568.27,26.60 L568.27,27.60 L568.27,28.60 L568.27,29.60 L568.27,30.60 L568.27,31.60 L568.27,32.60 L568.27,33.60 L568.27,34.60 L568.27,35.60 L568.27,36.60 L568.27,37.60 L568.26,38.60 L568.26,39.60 L568.26,40.60 L568.25,41.60 L568.24,42.60 L568.24,43.60 L568.23,44.60 L568.22,45.60 L568.21,46.60 L568.19,47.60 L568.18,48.60 L568.16,49.60 L568.15,50.60 L568.13,51.60 L568.11,52.60 L568.08,53.60 L568.06,54.60 L568.03,55.60 L568.00,56.60 L567.97,57.60 L567.93,58.60 L567.90,59.60 L567.86,60.60 L567.82,61.60 L567.77,62.60 L567.72,63.60 L567.67,64.60 L567.62,65.60 L567.56,66.60 L567.50,67.60 L567.44,68.60 L567.38,69.60 L567.31,70.60 L567.25,71.60 L567.18,72.60 L567.11,73.60 L567.04,74.60 L566.97,75.60 L566.89,76.60 L566.82,77.60 L566.75,78.60 L566.68,79.60 L566.61,80.60 L566.54,81.60 L566.47,82.60 L566.40,83.60 L566.33,84.60 L566.26,85.60 L566.20,86.60 L566.14,87.60 L566.07,88.60 L566.01,89.60 L565.94,90.60 L565.88,91.60 L565.81,92.60 L565.75,93.60 L565.68,94.60 L565.61,95.60 L565.54,96.60 L565.47,97.60 L565.39,98.60 L565.31,99.60 L565.22,100.60 L565.14,101.60 L565.05,102.60 L564.95,103.60 L564.85,104.60 L564.74,105.60 L564.63,106.60 L564.52,107.60 L564.39,108.60 L564.26,109.60 L564.13,110.60 L563.99,111.60 L563.84,112.60 L563.68,113.60 L563.52,114.60 L563.35,115.60 L563.18,116.60 L563.00,117.60 L562.82,118.60 L562.63,119.60 L562.44,120.60 L562.25,121.60 L562.06,122.60 L561.86,123.60 L561.65,124.60 L561.45,125.60 L561.24,126.60 L561.02,127.60 L560.80,128.60 L560.57,129.60 L560.34,130.60 L560.10,131.60 L559.85,132.60 L559.59,133.60 L559.32,134.60 L559.04,135.60 L558.75,136.60 L558.45,137.60 L558.14,138.60 L557.82,139.60 L557.48,140.60 L557.13,141.60 L556.76,142.60 L556.38,143.60 L555.98,144.60 L555.58,145.60 L555.15,146.60 L554.71,147.60 L554.26,148.60 L553.78,149.60 L553.30,150.60 L552.79,151.60 L552.28,152.60 L551.75,153.60 L551.21,154.60 L550.66,155.60 L550.10,156.60 L549.54,157.60 L548.97,158.60 L548.41,159.60 L547.84,160.60 L547.28,161.60 L546.72,162.60 L546.17,163.60 L545.63,164.60 L545.09,165.60 L544.57,166.60 L544.06,167.60 L543.57,168.60 L543.09,169.60 L542.64,170.60 L542.20,171.60 L541.79,172.60 L541.40,173.60 L541.04,174.60 L540.71,175.60 L540.41,176.60 L540.14,177.60 L539.89,178.60 L539.67,179.60 L539.49,180.60 L539.33,181.60 L539.19,182.60 L539.09,183.60 L539.01,184.60 L538.97,185.60 L538.95,186.60 L538.95,187.60 L538.99,188.60 L539.05,189.60 L539.14,190.60 L539.25,191.60 L539.39,192.60 L539.56,193.60 L539.76,194.60 L539.98,195.60 L540.22,196.60 L540.50,197.60 L540.80,198.60 L541.12,199.60 L541.48,200.60 L541.85,201.60 L542.26,202.60 L542.68,203.60 L543.13,204.60 L543.61,205.60 L544.10,206.60 L544.61,207.60 L545.14,208.60 L545.68,209.60 L546.24,210.60 L546.81,211.60 L547.39,212.60 L547.97,213.60 L548.56,214.60 L549.16,215.60 L549.76,216.60 L550.35,217.60 L550.95,218.60 L551.54,219.60 L552.13,220.60 L552.72,221.60 L553.29,222.60 L553.86,223.60 L554.41,224.60 L554.95,225.60 L555.48,226.60 L555.99,227.60 L556.49,228.60 L556.97,229.60 L557.45,230.60 L557.91,231.60 L558.36,232.60 L558.79,233.60 L559.22,234.60 L559.63,235.60 L560.03,236.60 L560.41,237.60 L560.79,238.60 L561.15,239.60 L561.51,240.60 L561.85,241.60 L562.18,242.60 L562.50,243.60 L562.81,244.60 L563.11,245.60 L563.40,246.60 L563.67,247.60 L563.94,248.60 L564.20,249.60 L564.45,250.60 L564.69,251.60 L564.92,252.60 L565.14,253.60 L565.35,254.60 L565.55,255.60 L565.75,256.60 L565.93,257.60 L566.11,258.60 L566.28,259.60 L566.44,260.60 L566.59,261.60 L566.74,262.60 L566.88,263.60 L567.01,264.60 L567.13,265.60 L567.24,266.60 L567.35,267.60 L567.46,268.60 L567.55,269.60 L567.64,270.60 L567.72,271.60 L567.80,272.60 L567.87,273.60 L567.94,274.60 L567.99,275.60 L568.05,276.60 L568.10,277.60 L568.14,278.60 L568.18,279.60 L568.21,280.60 L568.24,281.60 L568.27,282.60 L568.29,283.60 L568.30,284.60 L568.30,285.60 L568.30,286.60 L568.30,287.60 L568.30,288.60 L568.30,289.60 L568.30,290.60 L568.30,291.60 L568.30,292.50 L568.30,292.50 L568.30,291.60 L568.30,290.60 L568.30,289.60 L568.30,288.60 L568.30,287.60 L568.30,286.60 L568.30,285.60 L568.30,284.60 L568.31,283.60 L568.33,282.60 L568.36,281.60 L568.39,280.60 L568.42,279.60 L568.46,278.60 L568.50,277.60 L568.55,276.60 L568.61,275.60 L568.66,274.60 L568.73,273.60 L568.80,272.60 L568.88,271.60 L568.96,270.60 L569.05,269.60 L569.14,268.60 L569.25,267.60 L569.36,266.60 L569.47,265.60 L569.59,264.60 L569.72,263.60 L569.86,262.60 L570.01,261.60 L570.16,260.60 L570.32,259.60 L570.49,258.60 L570.67,257.60 L570.85,256.60 L571.05,255.60 L571.25,254.60 L571.46,253.60 L571.68,252.60 L571.91,251.60 L572.15,250.60 L572.40,249.60 L572.66,248.60 L572.93,247.60 L573.20,246.60 L573.49,245.60 L573.79,244.60 L574.10,243.60 L574.42,242.60 L574.75,241.60 L575.09,240.60 L575.45,239.60 L575.81,238.60 L576.19,237.60 L576.57,236.60 L576.97,235.60 L577.38,234.60 L577.81,233.60 L578.24,232.60 L578.69,231.60 L579.15,230.60 L579.63,229.60 L580.11,228.60 L580.61,227.60 L581.12,226.60 L581.65,225.60 L582.19,224.60 L582.74,223.60 L583.31,222.60 L583.88,221.60 L584.47,220.60 L585.06,219.60 L585.65,218.60 L586.25,217.60 L586.84,216.60 L587.44,215.60 L588.04,214.60 L588.63,213.60 L589.21,212.60 L589.79,211.60 L590.36,210.60 L590.92,209.60 L591.46,208.60 L591.99,207.60 L592.50,206.60 L592.99,205.60 L593.47,204.60 L593.92,203.60 L594.34,202.60 L594.75,201.60 L595.12,200.60 L595.48,199.60 L595.80,198.60 L596.10,197.60 L596.38,196.60 L596.62,195.60 L596.84,194.60 L597.04,193.60 L597.21,192.60 L597.35,191.60 L597.46,190.60 L597.55,189.60 L597.61,188.60 L597.65,187.60 L597.65,186.60 L597.63,185.60 L597.59,184.60 L597.51,183.60 L597.41,182.60 L597.27,181.60 L597.11,180.60 L596.93,179.60 L596.71,178.60 L596.46,177.60 L596.19,176.60 L595.89,175.60 L595.56,174.60 L595.20,173.60 L594.81,172.60 L594.40,171.60 L593.96,170.60 L593.51,169.60 L593.03,168.60 L592.54,167.60 L592.03,166.60 L591.51,165.60 L590.97,164.60 L590.43,163.60 L589.88,162.60 L589.32,161.60 L588.76,160.60 L588.19,159.60 L587.63,158.60 L587.06,157.60 L586.50,156.60 L585.94,155.60 L585.39,154.60 L584.85,153.60 L584.32,152.60 L583.81,151.60 L583.30,150.60 L582.82,149.60 L582.34,148.60 L581.89,147.60 L581.45,146.60 L581.02,145.60 L580.62,144.60 L580.22,143.60 L579.84,142.60 L579.47,141.60 L579.12,140.60 L578.78,139.60 L578.46,138.60 L578.15,137.60 L577.85,136.60 L577.56,135.60 L577.28,134.60 L577.01,133.60 L576.75,132.60 L576.50,131.60 L576.26,130.60 L576.03,129.60 L575.80,128.60 L575.58,127.60 L575.36,126.60 L575.15,125.60 L574.95,124.60 L574.74,123.60 L574.54,122.60 L574.35,121.60 L574.16,120.60 L573.97,119.60 L573.78,118.60 L573.60,117.60 L573.42,116.60 L573.25,115.60 L573.08,114.60 L572.92,113.60 L572.76,112.60 L572.61,111.60 L572.47,110.60 L572.34,109.60 L572.21,108.60 L572.08,107.60 L571.97,106.60 L571.86,105.60 L571.75,104.60 L571.65,103.60 L571.55,102.60 L571.46,101.60 L571.38,100.60 L571.29,99.60 L571.21,98.60 L571.13,97.60 L571.06,96.60 L570.99,95.60 L570.92,94.60 L570.85,93.60 L570.79,92.60 L570.72,91.60 L570.66,90.60 L570.59,89.60 L570.53,88.60 L570.46,87.60 L570.40,86.60 L570.34,85.60 L570.27,84.60 L570.20,83.60 L570.13,82.60 L570.06,81.60 L569.99,80.60 L569.92,79.60 L569.85,78.60 L569.78,77.60 L569.71,76.60 L569.63,75.60 L569.56,74.60 L569.49,73.60 L569.42,72.60 L569.35,71.60 L569.29,70.60 L569.22,69.60 L569.16,68.60 L569.10,67.60 L569.04,66.60 L568.98,65.60 L568.93,64.60 L568.88,63.60 L568.83,62.60 L568.78,61.60 L568.74,60.60 L568.70,59.60 L568.67,58.60 L568.63,57.60 L568.60,56.60 L568.57,55.60 L568.54,54.60 L568.52,53.60 L568.49,52.60 L568.47,51.60 L568.45,50.60 L568.44,49.60 L568.42,48.60 L568.41,47.60 L568.39,46.60 L568.38,45.60 L568.37,44.60 L568.36,43.60 L568.36,42.60 L568.35,41.60 L568.34,40.60 L568.34,39.60 L568.34,38.60 L568.33,37.60 L568.33,36.60 L568.33,35.60 L568.33,34.60 L568.33,33.60 L568.33,32.60 L568.33,31.60 L568.33,30.60 L568.33,29.60 L568.33,28.60 L568.33,27.60 L568.33,26.60 L568.33,25.60 L568.33,24.60 L568.33,23.60 L568.33,22.60 L568.33,21.60 L568.33,20.60 L568.33,19.60 L568.32,18.60 L568.32,17.60 L568.31,16.60 L568.31,15.60 L568.30,14.60Z" fill="#efbc91" stroke="#666666" stroke-width="1.3" stroke-linejoin="round"/>
<line x1="568.3" x2="568.3" y1="93.8" y2="272.7" stroke="#666666" stroke-width="1.64"/>
<line x1="568.3" x2="568.3" y1="158.3" y2="207.6" stroke="#666666" stroke-width="5.2"/>
<line x1="565.8499999999999" x2="570.75" y1="184.6" y2="184.6" stroke="#f2f2f2" stroke-width="1.2"/>
<path d="M634.50,55.60 L634.48,56.60 L634.46,57.60 L634.44,58.60 L634.43,59.60 L634.41,60.60 L634.39,61.60 L634.38,62.60 L634.36,63.60 L634.35,64.60 L634.33,65.60 L634.31,66.60 L634.30,67.60 L634.28,68.60 L634.26,69.60 L634.25,70.60 L634.23,71.60 L634.21,72.60 L634.19,73.60 L634.16,74.60 L634.14,75.60 L634.12,76.60 L634.09,77.60 L634.06,78.60 L634.03,79.60 L634.00,80.60 L633.97,81.60 L633.93,82.60 L633.89,83.60 L633.85,84.60 L633.81,85.60 L633.77,86.60 L633.72,87.60 L633.67,88.60 L633.61,89.60 L633.55,90.60 L633.49,91.60 L633.43,92.60 L633.36,93.60 L633.29,94.60 L633.22,95.60 L633.14,96.60 L633.06,97.60 L632.97,98.60 L632.88,99.60 L632.78,100.60 L632.68,101.60 L632.58,102.60 L632.47,103.60 L632.35,104.60 L632.24,105.60 L632.11,106.60 L631.98,107.60 L631.85,108.60 L631.71,109.60 L631.57,110.60 L631.42,111.60 L631.26,112.60 L631.11,113.60 L630.94,114.60 L630.77,115.60 L630.60,116.60 L630.42,117.60 L630.24,118.60 L630.05,119.60 L629.86,120.60 L629.66,121.60 L629.46,122.60 L629.25,123.60 L629.04,124.60 L628.83,125.60 L628.60,126.60 L628.38,127.60 L628.15,128.60 L627.91,129.60 L627.67,130.60 L627.43,131.60 L627.18,132.60 L626.93,133.60 L626.67,134.60 L626.40,135.60 L626.14,136.60 L625.86,137.60 L625.58,138.60 L625.29,139.60 L624.98,140.60 L624.67,141.60 L624.35,142.60 L624.01,143.60 L623.66,144.60 L623.29,145.60 L622.91,146.60 L622.51,147.60 L622.09,148.60 L621.66,149.60 L621.20,150.60 L620.72,151.60 L620.22,152.60 L619.71,153.60 L619.18,154.60 L618.65,155.60 L618.10,156.60 L617.55,157.60 L617.00,158.60 L616.45,159.60 L615.91,160.60 L615.37,161.60 L614.84,162.60 L614.32,163.60 L613.81,164.60 L613.32,165.60 L612.84,166.60 L612.37,167.60 L611.92,168.60 L611.48,169.60 L611.05,170.60 L610.63,171.60 L610.23,172.60 L609.84,173.60 L609.47,174.60 L609.10,175.60 L608.75,176.60 L608.41,177.60 L608.09,178.60 L607.78,179.60 L607.48,180.60 L607.19,181.60 L606.92,182.60 L606.66,183.60 L606.41,184.60 L606.18,185.60 L605.96,186.60 L605.75,187.60 L605.56,188.60 L605.39,189.60 L605.23,190.60 L605.09,191.60 L604.97,192.60 L604.86,193.60 L604.77,194.60 L604.71,195.60 L604.66,196.60 L604.64,197.60 L604.63,198.60 L604.65,199.60 L604.69,200.60 L604.76,201.60 L604.85,202.60 L604.96,203.60 L605.10,204.60 L605.26,205.60 L605.46,206.60 L605.67,207.60 L605.92,208.60 L606.20,209.60 L606.50,210.60 L606.84,211.60 L607.20,212.60 L607.60,213.60 L608.03,214.60 L608.49,215.60 L608.98,216.60 L609.51,217.60 L610.05,218.60 L610.63,219.60 L611.23,220.60 L611.85,221.60 L612.49,222.60 L613.15,223.60 L613.83,224.60 L614.52,225.60 L615.22,226.60 L615.92,227.60 L616.62,228.60 L617.32,229.60 L618.02,230.60 L618.70,231.60 L619.38,232.60 L620.05,233.60 L620.70,234.60 L621.34,235.60 L621.97,236.60 L622.58,237.60 L623.17,238.60 L623.74,239.60 L624.29,240.60 L624.81,241.60 L625.31,242.60 L625.79,243.60 L626.25,244.60 L626.69,245.60 L627.10,246.60 L627.50,247.60 L627.88,248.60 L628.24,249.60 L628.58,250.60 L628.90,251.60 L629.21,252.60 L629.51,253.60 L629.79,254.60 L630.05,255.60 L630.31,256.60 L630.55,257.60 L630.78,258.60 L631.00,259.60 L631.21,260.60 L631.41,261.60 L631.60,262.60 L631.78,263.60 L631.96,264.60 L632.13,265.60 L632.30,266.60 L632.46,267.60 L632.61,268.60 L632.76,269.60 L632.91,270.60 L633.05,271.60 L633.19,272.60 L633.32,273.60 L633.45,274.60 L633.57,275.60 L633.68,276.60 L633.79,277.60 L633.89,278.60 L633.98,279.60 L634.07,280.60 L634.15,281.60 L634.22,282.60 L634.28,283.60 L634.34,284.60 L634.39,285.60 L634.43,286.60 L634.46,287.60 L634.48,288.60 L634.49,289.60 L634.50,290.60 L634.50,291.00 L634.50,291.00 L634.50,290.60 L634.51,289.60 L634.52,288.60 L634.54,287.60 L634.57,286.60 L634.61,285.60 L634.66,284.60 L634.72,283.60 L634.78,282.60 L634.85,281.60 L634.93,280.60 L635.02,279.60 L635.11,278.60 L635.21,277.60 L635.32,276.60 L635.43,275.60 L635.55,274.60 L635.68,273.60 L635.81,272.60 L635.95,271.60 L636.09,270.60 L636.24,269.60 L636.39,268.60 L636.54,267.60 L636.70,266.60 L636.87,265.60 L637.04,264.60 L637.22,263.60 L637.40,262.60 L637.59,261.60 L637.79,260.60 L638.00,259.60 L638.22,258.60 L638.45,257.60 L638.69,256.60 L638.95,255.60 L639.21,254.60 L639.49,253.60 L639.79,252.60 L640.10,251.60 L640.42,250.60 L640.76,249.60 L641.12,248.60 L641.50,247.60 L641.90,246.60 L642.31,245.60 L642.75,244.60 L643.21,243.60 L643.69,242.60 L644.19,241.60 L644.71,240.60 L645.26,239.60 L645.83,238.60 L646.42,237.60 L647.03,236.60 L647.66,235.60 L648.30,234.60 L648.95,233.60 L649.62,232.60 L650.30,231.60 L650.98,230.60 L651.68,229.60 L652.38,228.60 L653.08,227.60 L653.78,226.60 L654.48,225.60 L655.17,224.60 L655.85,223.60 L656.51,222.60 L657.15,221.60 L657.77,220.60 L658.37,219.60 L658.95,218.60 L659.49,217.60 L660.02,216.60 L660.51,215.60 L660.97,214.60 L661.40,213.60 L661.80,212.60 L662.16,211.60 L662.50,210.60 L662.80,209.60 L663.08,208.60 L663.33,207.60 L663.54,206.60 L663.74,205.60 L663.90,204.60 L664.04,203.60 L664.15,202.60 L664.24,201.60 L664.31,200.60 L664.35,199.60 L664.37,198.60 L664.36,197.60 L664.34,196.60 L664.29,195.60 L664.23,194.60 L664.14,193.60 L664.03,192.60 L663.91,191.60 L663.77,190.60 L663.61,189.60 L663.44,188.60 L663.25,187.60 L663.04,186.60 L662.82,185.60 L662.59,184.60 L662.34,183.60 L662.08,182.60 L661.81,181.60 L661.52,180.60 L661.22,179.60 L660.91,178.60 L660.59,177.60 L660.25,176.60 L659.90,175.60 L659.53,174.60 L659.16,173.60 L658.77,172.60 L658.37,171.60 L657.95,170.60 L657.52,169.60 L657.08,168.60 L656.63,167.60 L656.16,166.60 L655.68,165.60 L655.19,164.60 L654.68,163.60 L654.16,162.60 L653.63,161.60 L653.09,160.60 L652.55,159.60 L652.00,158.60 L651.45,157.60 L650.90,156.60 L650.35,155.60 L649.82,154.60 L649.29,153.60 L648.78,152.60 L648.28,151.60 L647.80,150.60 L647.34,149.60 L646.91,148.60 L646.49,147.60 L646.09,146.60 L645.71,145.60 L645.34,144.60 L644.99,143.60 L644.65,142.60 L644.33,141.60 L644.02,140.60 L643.71,139.60 L643.42,138.60 L643.14,137.60 L642.86,136.60 L642.60,135.60 L642.33,134.60 L642.07,133.60 L641.82,132.60 L641.57,131.60 L641.33,130.60 L641.09,129.60 L640.85,128.60 L640.62,127.60 L640.40,126.60 L640.17,125.60 L639.96,124.60 L639.75,123.60 L639.54,122.60 L639.34,121.60 L639.14,120.60 L638.95,119.60 L638.76,118.60 L638.58,117.60 L638.40,116.60 L638.23,115.60 L638.06,114.60 L637.89,113.60 L637.74,112.60 L637.58,111.60 L637.43,110.60 L637.29,109.60 L637.15,108.60 L637.02,107.60 L636.89,106.60 L636.76,105.60 L636.65,104.60 L636.53,103.60 L636.42,102.60 L636.32,101.60 L636.22,100.60 L636.12,99.60 L636.03,98.60 L635.94,97.60 L635.86,96.60 L635.78,95.60 L635.71,94.60 L635.64,93.60 L635.57,92.60 L635.51,91.60 L635.45,90.60 L635.39,89.60 L635.33,88.60 L635.28,87.60 L635.23,86.60 L635.19,85.60 L635.15,84.60 L635.11,83.60 L635.07,82.60 L635.03,81.60 L635.00,80.60 L634.97,79.60 L634.94,78.60 L634.91,77.60 L634.88,76.60 L634.86,75.60 L634.84,74.60 L634.81,73.60 L634.79,72.60 L634.77,71.60 L634.75,70.60 L634.74,69.60 L634.72,68.60 L634.70,67.60 L634.69,66.60 L634.67,65.60 L634.65,64.60 L634.64,63.60 L634.62,62.60 L634.61,61.60 L634.59,60.60 L634.57,59.60 L634.56,58.60 L634.54,57.60 L634.52,56.60 L634.50,55.60Z" fill="#e58370" stroke="#666666" stroke-width="1.3" stroke-linejoin="round"/>
<line x1="634.5" x2="634.5" y1="100.5" y2="275.5" stroke="#666666" stroke-width="1.64"/>
<line x1="634.5" x2="634.5" y1="165.2" y2="216.05" stroke="#666666" stroke-width="5.2"/>
<line x1="632.05" x2="636.95" y1="192.7" y2="192.7" stroke="#f2f2f2" stroke-width="1.2"/>
<rect x="174.4" y="6.0" width="43.30" height="47.30" rx="2.2" fill="#ffffff" fill-opacity="0.8" stroke="#cccccc" stroke-opacity="0.8" stroke-width="0.9"/>
<text transform="translate(196.05,17.6) rotate(0.05)" font-size="10.0" text-anchor="middle" textLength="17.4" lengthAdjust="spacingAndGlyphs">Sex</text>
<rect x="178.50" y="25.9" width="19.3" height="6.8" fill="#efbc91" stroke="#666666" stroke-width="1.3"/>
<rect x="178.50" y="40.4" width="19.3" height="6.8" fill="#e58370" stroke="#666666" stroke-width="1.3"/>
<text transform="translate(205.70,32.5) rotate(0.05)" font-size="10.0" textLength="8.3" lengthAdjust="spacingAndGlyphs">M</text>
<text transform="translate(205.70,47.0) rotate(0.05)" font-size="10.0" textLength="5.7" lengthAdjust="spacingAndGlyphs">F</text>
<rect x="58.0" y="1.5" width="164.50" height="304.95" fill="none" stroke="#000000" stroke-opacity="0.74" stroke-width="0.87"/>
<line x1="54.20" x2="58.0" y1="298.30" y2="298.30" stroke="#000000" stroke-opacity="0.8" stroke-width="0.87"/>
<text transform="translate(50.70,303.95) rotate(0.05)" font-size="15.0" text-anchor="end" textLength="29.6" lengthAdjust="spacingAndGlyphs">0.02</text>
<line x1="54.20" x2="58.0" y1="262.31" y2="262.31" stroke="#000000" stroke-opacity="0.8" stroke-width="0.87"/>
<text transform="translate(50.70,267.96) rotate(0.05)" font-size="15.0" text-anchor="end" textLength="29.6" lengthAdjust="spacingAndGlyphs">0.03</text>
<line x1="54.20" x2="58.0" y1="226.33" y2="226.33" stroke="#000000" stroke-opacity="0.8" stroke-width="0.87"/>
<text transform="translate(50.70,231.98) rotate(0.05)" font-size="15.0" text-anchor="end" textLength="29.6" lengthAdjust="spacingAndGlyphs">0.04</text>
<line x1="54.20" x2="58.0" y1="190.34" y2="190.34" stroke="#000000" stroke-opacity="0.8" stroke-width="0.87"/>
<text transform="translate(50.70,195.99) rotate(0.05)" font-size="15.0" text-anchor="end" textLength="29.6" lengthAdjust="spacingAndGlyphs">0.05</text>
<line x1="54.20" x2="58.0" y1="154.35" y2="154.35" stroke="#000000" stroke-opacity="0.8" stroke-width="0.87"/>
<text transform="translate(50.70,160.00) rotate(0.05)" font-size="15.0" text-anchor="end" textLength="29.6" lengthAdjust="spacingAndGlyphs">0.06</text>
<line x1="54.20" x2="58.0" y1="118.36" y2="118.36" stroke="#000000" stroke-opacity="0.8" stroke-width="0.87"/>
<text transform="translate(50.70,124.01) rotate(0.05)" font-size="15.0" text-anchor="end" textLength="29.6" lengthAdjust="spacingAndGlyphs">0.07</text>
<line x1="54.20" x2="58.0" y1="82.38" y2="82.38" stroke="#000000" stroke-opacity="0.8" stroke-width="0.87"/>
<text transform="translate(50.70,88.03) rotate(0.05)" font-size="15.0" text-anchor="end" textLength="29.6" lengthAdjust="spacingAndGlyphs">0.08</text>
<line x1="54.20" x2="58.0" y1="46.39" y2="46.39" stroke="#000000" stroke-opacity="0.8" stroke-width="0.87"/>
<text transform="translate(50.70,52.04) rotate(0.05)" font-size="15.0" text-anchor="end" textLength="29.6" lengthAdjust="spacingAndGlyphs">0.09</text>
<line x1="54.20" x2="58.0" y1="10.40" y2="10.40" stroke="#000000" stroke-opacity="0.8" stroke-width="0.87"/>
<text transform="translate(50.70,16.05) rotate(0.05)" font-size="15.0" text-anchor="end" textLength="29.6" lengthAdjust="spacingAndGlyphs">0.10</text>
<line x1="140.25" x2="140.25" y1="306.45" y2="310.25" stroke="#000000" stroke-opacity="0.8" stroke-width="0.87"/>
<text transform="translate(132.53,329.1) rotate(0.05) scale(1.18,1)" text-anchor="middle" font-size="14.9">(</text>
<text transform="translate(140.35,329.7) rotate(0.05) scale(1.07,1)" text-anchor="middle" font-size="16.3">a</text>
<text transform="translate(148.17,329.1) rotate(0.05) scale(1.18,1)" text-anchor="middle" font-size="14.9">)</text>
<text transform="translate(13.20,154.07) rotate(-89.95) scale(1.05,1)" x="-94.83 -85.58 -76.20 -70.04 -56.16 -46.87 -42.75 -39.01 -30.99 -21.70 -12.40 -8.43 0.56 9.68 15.36 24.61 29.54 38.63 48.32 53.47 57.96 67.15 76.85 85.80" y="0" font-size="16.0">normalized Forefoot-PSTT</text>
<rect x="404.4" y="6.0" width="44.20" height="47.30" rx="2.2" fill="#ffffff" fill-opacity="0.8" stroke="#cccccc" stroke-opacity="0.8" stroke-width="0.9"/>
<text transform="translate(426.50,17.6) rotate(0.05)" font-size="10.0" text-anchor="middle" textLength="17.4" lengthAdjust="spacingAndGlyphs">Sex</text>
<rect x="408.50" y="25.9" width="19.3" height="6.8" fill="#efbc91" stroke="#666666" stroke-width="1.3"/>
<rect x="408.50" y="40.4" width="19.3" height="6.8" fill="#e58370" stroke="#666666" stroke-width="1.3"/>
<text transform="translate(435.70,32.5) rotate(0.05)" font-size="10.0" textLength="8.3" lengthAdjust="spacingAndGlyphs">M</text>
<text transform="translate(435.70,47.0) rotate(0.05)" font-size="10.0" textLength="5.7" lengthAdjust="spacingAndGlyphs">F</text>
<rect x="288.5" y="1.5" width="164.80" height="304.95" fill="none" stroke="#000000" stroke-opacity="0.74" stroke-width="0.87"/>
<line x1="284.70" x2="288.5" y1="270.90" y2="270.90" stroke="#000000" stroke-opacity="0.8" stroke-width="0.87"/>
<text transform="translate(281.20,276.55) rotate(0.05)" font-size="15.0" text-anchor="end" textLength="29.6" lengthAdjust="spacingAndGlyphs">0.02</text>
<line x1="284.70" x2="288.5" y1="233.54" y2="233.54" stroke="#000000" stroke-opacity="0.8" stroke-width="0.87"/>
<text transform="translate(281.20,239.19) rotate(0.05)" font-size="15.0" text-anchor="end" textLength="29.6" lengthAdjust="spacingAndGlyphs">0.03</text>
<line x1="284.70" x2="288.5" y1="196.19" y2="196.19" stroke="#000000" stroke-opacity="0.8" stroke-width="0.87"/>
<text transform="translate(281.20,201.84) rotate(0.05)" font-size="15.0" text-anchor="end" textLength="29.6" lengthAdjust="spacingAndGlyphs">0.04</text>
<line x1="284.70" x2="288.5" y1="158.83" y2="158.83" stroke="#000000" stroke-opacity="0.8" stroke-width="0.87"/>
<text transform="translate(281.20,164.48) rotate(0.05)" font-size="15.0" text-anchor="end" textLength="29.6" lengthAdjust="spacingAndGlyphs">0.05</text>
<line x1="284.70" x2="288.5" y1="121.47" y2="121.47" stroke="#000000" stroke-opacity="0.8" stroke-width="0.87"/>
<text transform="translate(281.20,127.12) rotate(0.05)" font-size="15.0" text-anchor="end" textLength="29.6" lengthAdjust="spacingAndGlyphs">0.06</text>
<line x1="284.70" x2="288.5" y1="84.11" y2="84.11" stroke="#000000" stroke-opacity="0.8" stroke-width="0.87"/>
<text transform="translate(281.20,89.76) rotate(0.05)" font-size="15.0" text-anchor="end" textLength="29.6" lengthAdjust="spacingAndGlyphs">0.07</text>
<line x1="284.70" x2="288.5" y1="46.76" y2="46.76" stroke="#000000" stroke-opacity="0.8" stroke-width="0.87"/>
<text transform="translate(281.20,52.41) rotate(0.05)" font-size="15.0" text-anchor="end" textLength="29.6" lengthAdjust="spacingAndGlyphs">0.08</text>
<line x1="284.70" x2="288.5" y1="9.40" y2="9.40" stroke="#000000" stroke-opacity="0.8" stroke-width="0.87"/>
<text transform="translate(281.20,15.05) rotate(0.05)" font-size="15.0" text-anchor="end" textLength="29.6" lengthAdjust="spacingAndGlyphs">0.09</text>
<line x1="370.90" x2="370.90" y1="306.45" y2="310.25" stroke="#000000" stroke-opacity="0.8" stroke-width="0.87"/>
<text transform="translate(363.01,329.1) rotate(0.05) scale(1.18,1)" text-anchor="middle" font-size="14.9">(</text>
<text transform="translate(371.00,329.7) rotate(0.05) scale(1.07,1)" text-anchor="middle" font-size="16.3">b</text>
<text transform="translate(378.99,329.1) rotate(0.05) scale(1.18,1)" text-anchor="middle" font-size="14.9">)</text>
<text transform="translate(243.70,154.07) rotate(-89.95) scale(1.05,1)" x="-95.82 -86.57 -77.19 -71.03 -57.15 -47.87 -43.74 -40.00 -31.98 -22.69 -13.39 -9.42 1.31 10.10 19.49 25.60 30.53 39.62 49.31 54.46 58.95 68.14 77.84 86.79" y="0" font-size="16.0">normalized Rearfoot-PSTT</text>
<rect x="635.3" y="6.0" width="43.60" height="47.30" rx="2.2" fill="#ffffff" fill-opacity="0.8" stroke="#cccccc" stroke-opacity="0.8" stroke-width="0.9"/>
<text transform="translate(657.10,17.6) rotate(0.05)" font-size="10.0" text-anchor="middle" textLength="17.4" lengthAdjust="spacingAndGlyphs">Sex</text>
<rect x="639.40" y="25.9" width="19.3" height="6.8" fill="#efbc91" stroke="#666666" stroke-width="1.3"/>
<rect x="639.40" y="40.4" width="19.3" height="6.8" fill="#e58370" stroke="#666666" stroke-width="1.3"/>
<text transform="translate(666.60,32.5) rotate(0.05)" font-size="10.0" textLength="8.3" lengthAdjust="spacingAndGlyphs">M</text>
<text transform="translate(666.60,47.0) rotate(0.05)" font-size="10.0" textLength="5.7" lengthAdjust="spacingAndGlyphs">F</text>
<rect x="519.0" y="1.5" width="164.50" height="304.95" fill="none" stroke="#000000" stroke-opacity="0.74" stroke-width="0.87"/>
<line x1="515.20" x2="519.0" y1="304.40" y2="304.40" stroke="#000000" stroke-opacity="0.8" stroke-width="0.87"/>
<text transform="translate(511.70,310.05) rotate(0.05)" font-size="15.0" text-anchor="end" textLength="29.6" lengthAdjust="spacingAndGlyphs">0.02</text>
<line x1="515.20" x2="519.0" y1="260.27" y2="260.27" stroke="#000000" stroke-opacity="0.8" stroke-width="0.87"/>
<text transform="translate(511.70,265.92) rotate(0.05)" font-size="15.0" text-anchor="end" textLength="29.6" lengthAdjust="spacingAndGlyphs">0.03</text>
<line x1="515.20" x2="519.0" y1="216.13" y2="216.13" stroke="#000000" stroke-opacity="0.8" stroke-width="0.87"/>
<text transform="translate(511.70,221.78) rotate(0.05)" font-size="15.0" text-anchor="end" textLength="29.6" lengthAdjust="spacingAndGlyphs">0.04</text>
<line x1="515.20" x2="519.0" y1="172.00" y2="172.00" stroke="#000000" stroke-opacity="0.8" stroke-width="0.87"/>
<text transform="translate(511.70,177.65) rotate(0.05)" font-size="15.0" text-anchor="end" textLength="29.6" lengthAdjust="spacingAndGlyphs">0.05</text>
<line x1="515.20" x2="519.0" y1="127.87" y2="127.87" stroke="#000000" stroke-opacity="0.8" stroke-width="0.87"/>
<text transform="translate(511.70,133.52) rotate(0.05)" font-size="15.0" text-anchor="end" textLength="29.6" lengthAdjust="spacingAndGlyphs">0.06</text>
<line x1="515.20" x2="519.0" y1="83.73" y2="83.73" stroke="#000000" stroke-opacity="0.8" stroke-width="0.87"/>
<text transform="translate(511.70,89.38) rotate(0.05)" font-size="15.0" text-anchor="end" textLength="29.6" lengthAdjust="spacingAndGlyphs">0.07</text>
<line x1="515.20" x2="519.0" y1="39.60" y2="39.60" stroke="#000000" stroke-opacity="0.8" stroke-width="0.87"/>
<text transform="translate(511.70,45.25) rotate(0.05)" font-size="15.0" text-anchor="end" textLength="29.6" lengthAdjust="spacingAndGlyphs">0.08</text>
<line x1="601.25" x2="601.25" y1="306.45" y2="310.25" stroke="#000000" stroke-opacity="0.8" stroke-width="0.87"/>
<text transform="translate(594.02,329.1) rotate(0.05) scale(1.18,1)" text-anchor="middle" font-size="14.9">(</text>
<text transform="translate(601.35,329.7) rotate(0.05) scale(1.07,1)" text-anchor="middle" font-size="16.3">c</text>
<text transform="translate(608.68,329.1) rotate(0.05) scale(1.18,1)" text-anchor="middle" font-size="14.9">)</text>
<text transform="translate(474.20,154.07) rotate(-89.95) scale(1.05,1)" x="-84.44 -75.19 -65.80 -59.64 -45.77 -36.48 -32.36 -28.61 -20.59 -11.31 -2.01 2.32 15.52 24.64 33.90 43.08 47.56 56.76 66.46 75.41" y="0" font-size="16.0">normalized Mean-PSTT</text>
</svg>
</body></html>
